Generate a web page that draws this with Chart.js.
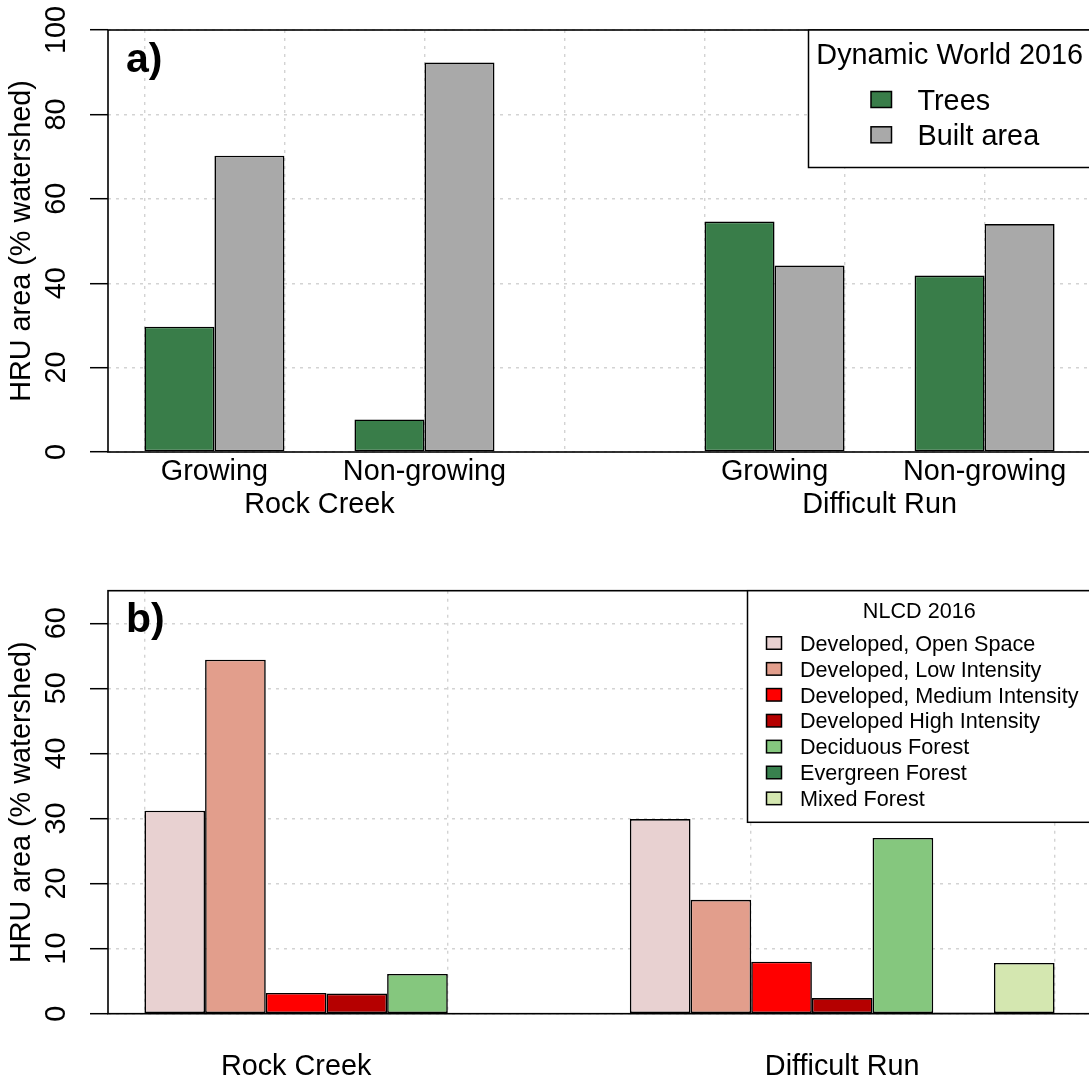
<!DOCTYPE html>
<html>
<head>
<meta charset="utf-8">
<script src="https://cdn.jsdelivr.net/npm/chart.js@4.4.1/dist/chart.umd.min.js"></script>
<style>
  html, body { margin: 0; padding: 0; background: #ffffff; overflow: hidden; width: 1089px; height: 1082px; }
  .panel { position: absolute; left: 0; width: 1091px; height: 541px; }
  #panelA { top: 0; }
  #panelB { top: 541px; }
  canvas { display: block; }
</style>
</head>
<body>
<div class="panel" id="panelA"><canvas id="chartA" width="1091" height="541"></canvas></div>
<div class="panel" id="panelB"><canvas id="chartB" width="1091" height="541"></canvas></div>
<script>
// ---------------- data ----------------
const watersheds = ['Rock Creek', 'Difficult Run'];
const seasons = ['Growing', 'Non-growing'];

// Panel a) Dynamic World 2016, order: RC Growing, RC Non-growing, DR Growing, DR Non-growing
const dwClasses = ['Trees', 'Built area'];
const dwTrees = [29.7, 7.7, 54.6, 41.8];
const dwBuilt = [70.2, 92.3, 44.2, 54.0];
const dwColors = ['#397D49', '#A9A9A9'];
const dwYMax = 100;
const dwYStep = 20;

// Panel b) NLCD 2016, one value per class for each watershed (null = class absent)
const nlcdClasses = [
  'Developed, Open Space',
  'Developed, Low Intensity',
  'Developed, Medium Intensity',
  'Developed High Intensity',
  'Deciduous Forest',
  'Evergreen Forest',
  'Mixed Forest'
];
const nlcdRockCreek = [31.2, 54.4, 3.2, 3.1, 6.1, null, null];
const nlcdDifficultRun = [29.9, 17.5, 8.0, 2.4, 27.0, 0.2, 7.8];
const nlcdColors = ['#E8D1D1', '#E29E8C', '#FF0000', '#B50000', '#85C77E', '#38814E', '#D4E7B0'];
const nlcdYMax = 65;
const nlcdYStep = 10;

const yTitle = 'HRU area (% watershed)';

// ---------------- helpers ----------------
const FAMILY = '"Liberation Sans", Arial, Helvetica, sans-serif';
const AX = 28.8;
const BAR_BORDER = 1.6;

// R barplot(beside=TRUE) style group layout: each bar 1 unit wide, spaces before groups
function groupLayout(nBars, spaces) {
  let x = 0;
  const centers = spaces.map(s => { x += s; const c = x + nBars / 2; x += nBars; return c; });
  return { centers, span: x };
}
function minGap(arr) {
  let m = Infinity;
  for (let i = 1; i < arr.length; i++) m = Math.min(m, arr[i] - arr[i - 1]);
  return m;
}
// centre of the bars of a group that actually carry a value
function filledCenter(center, values) {
  const left = center - values.length / 2;
  let first = -1, last = -1;
  values.forEach((v, i) => { if (v !== null) { if (first < 0) first = i; last = i; } });
  return left + (first + last + 1) / 2;
}

const framePlugin = {
  id: 'rFrame',
  afterDatasetsDraw(chart) {
    const { ctx, chartArea: a } = chart;
    ctx.save();
    ctx.strokeStyle = '#000';
    ctx.lineWidth = 1.6;
    ctx.strokeRect(a.left, a.top, a.right - a.left, a.bottom - a.top);
    ctx.restore();
  }
};

const legendPlugin = {
  id: 'rLegend',
  afterDraw(chart, args, o) {
    const { ctx, chartArea: a } = chart;
    ctx.save();
    const left = o.left, top = a.top, right = a.right, bottom = o.bottom;
    ctx.fillStyle = '#fff';
    ctx.fillRect(left, top, right - left, bottom - top);
    ctx.strokeStyle = '#000';
    ctx.lineWidth = 1.5;
    ctx.strokeRect(left, top, right - left, bottom - top);
    ctx.font = o.fontSize + 'px ' + FAMILY;
    ctx.fillStyle = '#000';
    ctx.textAlign = 'center';
    ctx.textBaseline = 'alphabetic';
    ctx.fillText(o.title, (left + right) / 2, o.titleY);
    ctx.textAlign = 'left';
    chart.data.datasets.forEach((ds, i) => {
      const cy = o.firstY + i * o.step;
      ctx.fillStyle = ds.backgroundColor;
      ctx.fillRect(o.keyX, cy - o.keyH / 2, o.keyW, o.keyH);
      ctx.lineWidth = 1.5;
      ctx.strokeStyle = '#000';
      ctx.strokeRect(o.keyX, cy - o.keyH / 2, o.keyW, o.keyH);
      ctx.fillStyle = '#000';
      ctx.fillText(ds.label, o.textX, cy + o.baseOff);
    });
    ctx.restore();
  }
};

const panelLabelPlugin = {
  id: 'panelLabel',
  afterDraw(chart, args, o) {
    const { ctx, chartArea: a } = chart;
    ctx.save();
    ctx.font = 'bold 41px ' + FAMILY;
    ctx.fillStyle = '#000';
    ctx.textAlign = 'left';
    ctx.textBaseline = 'alphabetic';
    ctx.fillText(o.text, a.left + o.dx, a.top + o.dy);
    ctx.restore();
  }
};

function yAxis(max, step, pad) {
  return {
    type: 'linear', position: 'left', min: 0, max: max,
    ticks: {
      stepSize: step, includeBounds: false, minRotation: 90, maxRotation: 90,
      crossAlign: 'center', padding: pad, color: '#000',
      font: { family: FAMILY, size: AX }
    },
    grid: { color: '#D3D3D3', lineWidth: 1.4, tickColor: '#000', tickWidth: 1.5, tickLength: 18, drawTicks: true },
    border: { display: false, dash: [3, 5] },
    title: { display: true, text: yTitle, color: '#000', font: { family: FAMILY, size: AX }, padding: { top: 4.4, bottom: 0 } },
    afterFit: s => { s.width = 108; }
  };
}
function labelAxis(min, max, centers, labels, pad, height, weight) {
  return {
    type: 'linear', position: 'bottom', min, max, bounds: 'data', weight, offset: false,
    afterBuildTicks: s => { s.ticks = centers.map(v => ({ value: v })); },
    ticks: {
      autoSkip: false, maxRotation: 0, minRotation: 0, padding: pad, color: '#000',
      font: { family: FAMILY, size: AX },
      callback: (v, i) => labels[i % labels.length]
    },
    grid: { display: false, drawTicks: false, tickLength: 0, offset: false },
    border: { display: false },
    afterFit: s => { s.height = height; }
  };
}
function gridAxis(min, max, step) {
  return {
    type: 'linear', position: 'bottom', min, max, bounds: 'ticks', weight: 0, offset: false,
    ticks: { display: false, stepSize: step, includeBounds: false },
    grid: { color: '#D3D3D3', lineWidth: 1.4, drawTicks: false, offset: false },
    border: { display: false, dash: [3, 5] },
    afterFit: s => { s.height = 0; }
  };
}
function barAxis(min, max) {
  return {
    type: 'linear', display: false, min, max, bounds: 'data', offset: false,
    grid: { offset: false },
    afterBuildTicks: s => { s.ticks = []; }
  };
}

// ---------------- panel a ----------------
const geoA = groupLayout(dwClasses.length, [0, 1, 3, 1]);
const xMinA = -0.04 * geoA.span, xMaxA = geoA.span * 1.04;
const wsCentersA = [(geoA.centers[0] + geoA.centers[1]) / 2, (geoA.centers[2] + geoA.centers[3]) / 2];
const dwValues = [dwTrees, dwBuilt];

new Chart(document.getElementById('chartA'), {
  type: 'bar',
  data: {
    datasets: dwClasses.map((name, k) => ({
      label: name,
      data: geoA.centers.map((x, i) => ({ x, y: dwValues[k][i] })),
      backgroundColor: dwColors[k],
      borderColor: '#000',
      borderWidth: BAR_BORDER,
      borderSkipped: false,
      barPercentage: 1,
      categoryPercentage: dwClasses.length / minGap(geoA.centers),
      xAxisID: 'x', yAxisID: 'y'
    }))
  },
  options: {
    responsive: false, animation: false, devicePixelRatio: 1, events: [],
    layout: { padding: { left: 0, right: 0, top: 30, bottom: 0 } },
    scales: {
      x: barAxis(xMinA, xMaxA),
      xg: gridAxis(xMinA, xMaxA, 2),
      xl: labelAxis(xMinA, xMaxA, geoA.centers, seasons, 2.7, 34, 1),
      xw: labelAxis(xMinA, xMaxA, wsCentersA, watersheds, 2, 55, 2),
      y: yAxis(dwYMax, dwYStep, 8.7)
    },
    plugins: {
      legend: { display: false },
      tooltip: { enabled: false },
      rLegend: {
        title: 'Dynamic World 2016', fontSize: AX, left: 808.5, bottom: 167.5, titleY: 64,
        keyX: 871, keyW: 20.5, keyH: 16, firstY: 99.5, step: 35.3, textX: 917.5, baseOff: 10.3
      },
      panelLabel: { text: 'a)', dx: 18, dy: 41.7 }
    }
  },
  plugins: [framePlugin, legendPlugin, panelLabelPlugin]
});

// ---------------- panel b ----------------
const geoB = groupLayout(nlcdClasses.length, [0, 1]);
const xMinB = -0.04 * geoB.span, xMaxB = geoB.span * 1.04;
const nlcdByWatershed = [nlcdRockCreek, nlcdDifficultRun];
const wsCentersB = geoB.centers.map((c, w) => filledCenter(c, nlcdByWatershed[w]));

new Chart(document.getElementById('chartB'), {
  type: 'bar',
  data: {
    datasets: nlcdClasses.map((name, k) => ({
      label: name,
      data: geoB.centers.map((x, w) => ({ x, y: nlcdByWatershed[w][k] })),
      backgroundColor: nlcdColors[k],
      borderColor: '#000',
      borderWidth: BAR_BORDER,
      borderSkipped: false,
      barPercentage: 1,
      categoryPercentage: nlcdClasses.length / minGap(geoB.centers),
      xAxisID: 'x', yAxisID: 'y'
    }))
  },
  options: {
    responsive: false, animation: false, devicePixelRatio: 1, events: [],
    layout: { padding: { left: 0, right: 0, top: 49.7, bottom: 0 } },
    scales: {
      x: barAxis(xMinB, xMaxB),
      xg: gridAxis(xMinB, xMaxB, 5),
      xw: labelAxis(xMinB, xMaxB, wsCentersB, watersheds, 36.1, 68.3, 2),
      y: yAxis(nlcdYMax, nlcdYStep, 16.7)
    },
    plugins: {
      legend: { display: false },
      tooltip: { enabled: false },
      rLegend: {
        title: 'NLCD 2016', fontSize: 21.6, left: 747.5, bottom: 281.3, titleY: 77,
        keyX: 766.5, keyW: 15, keyH: 12.5, firstY: 102, step: 25.9, textX: 800, baseOff: 7.7
      },
      panelLabel: { text: 'b)', dx: 18, dy: 41.7 }
    }
  },
  plugins: [framePlugin, legendPlugin, panelLabelPlugin]
});
</script>
</body>
</html>
